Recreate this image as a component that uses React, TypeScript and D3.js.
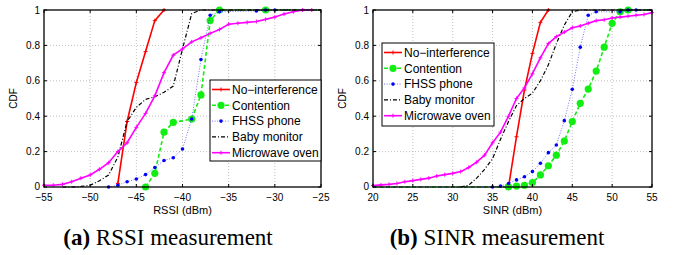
import * as d3 from "d3";
import React from "react";

// tick values
const rssiTicks = [-55, -50, -45, -40, -35, -30, -25];
const sinrTicks = [20, 25, 30, 35, 40, 45, 50, 55];
const cdfTicks = [0, 0.2, 0.4, 0.6, 0.8, 1];

const seriesNames = ["No\u2212interference", "Contention", "FHSS phone", "Baby monitor", "Microwave oven"];

// (a) RSSI
const rssiNoInterference: [number, number][] = [
  [-47, 0.02], [-46, 0.37], [-45, 0.59], [-44, 0.765], [-43, 0.94], [-42, 1.0],
];
const rssiContention: [number, number][] = [
  [-44, 0], [-43, 0.077], [-42, 0.31], [-41, 0.365], [-39, 0.384], [-38, 0.52],
  [-37, 0.94], [-36, 1.0], [-31, 1.0],
];
const rssiFhss: [number, number][] = [
  [-48, 0], [-47, 0.01], [-46, 0.03], [-45, 0.045], [-44, 0.07], [-43, 0.11], [-42, 0.15],
  [-41, 0.165], [-40, 0.215], [-39, 0.384], [-38, 0.72], [-37, 0.97], [-36, 0.99],
  [-32, 0.995], [-31, 1.0], [-30, 1.0],
];
const rssiBaby: [number, number][] = [
  [-53, 0], [-52, 0], [-51, 0.003], [-50, 0.01], [-49, 0.035], [-48, 0.068], [-47, 0.17],
  [-46, 0.37], [-45, 0.45], [-44, 0.495], [-43, 0.51], [-42, 0.535], [-41, 0.57],
  [-40, 0.78], [-39, 0.98], [-38, 1.0], [-25, 1.0],
];
const rssiMicrowave: [number, number][] = [
  [-55, 0.01], [-54, 0.01], [-53, 0.015], [-52, 0.03], [-51, 0.05], [-50, 0.068], [-49, 0.1],
  [-48, 0.137], [-47, 0.2], [-46, 0.25], [-45, 0.337], [-44, 0.416], [-43, 0.515],
  [-42, 0.646], [-41, 0.745], [-40, 0.78], [-39, 0.82], [-38, 0.843], [-37, 0.868],
  [-36, 0.89], [-35, 0.92], [-34, 0.925], [-33, 0.93], [-32, 0.935], [-31, 0.947],
  [-30, 0.96], [-29, 0.977], [-28, 0.99], [-27, 1.0], [-26, 1.0],
];

// (b) SINR
const sinrNoInterference: [number, number][] = [
  [37, 0], [38, 0.284], [39, 0.548], [40, 0.755], [41, 0.93], [42, 1.0],
];
const sinrContention: [number, number][] = [
  [37, 0], [38, 0.005], [39, 0.01], [40, 0.025], [41, 0.068], [42, 0.12], [43, 0.18],
  [44, 0.26], [45, 0.37], [46, 0.473], [47, 0.553], [48, 0.655], [49, 0.79], [50, 0.925],
  [51, 0.99], [52, 1.0],
];
const sinrFhss: [number, number][] = [
  [35, 0], [36, 0.005], [37, 0.02], [38, 0.04], [39, 0.058], [40, 0.087], [41, 0.134],
  [42, 0.194], [43, 0.237], [44, 0.375], [45, 0.552], [46, 0.79], [47, 0.97], [48, 0.99],
  [51, 0.99], [52, 1.0], [53, 1.0],
];
const sinrBaby: [number, number][] = [
  [31, 0], [32, 0.01], [33, 0.05], [34, 0.1], [35, 0.16], [36, 0.27], [37, 0.37],
  [38, 0.46], [39, 0.5], [40, 0.53], [41, 0.6], [42, 0.69], [43, 0.81], [44, 0.915],
  [45, 0.99], [46, 1.0], [55, 1.0],
];
const sinrMicrowave: [number, number][] = [
  [20, 0.008], [21, 0.012], [22, 0.015], [23, 0.02], [24, 0.03], [25, 0.036], [26, 0.043],
  [27, 0.05], [28, 0.062], [29, 0.07], [30, 0.077], [31, 0.087], [32, 0.11], [33, 0.14],
  [34, 0.18], [35, 0.25], [36, 0.31], [37, 0.4], [38, 0.5], [39, 0.56], [40, 0.64],
  [41, 0.73], [42, 0.81], [43, 0.85], [44, 0.875], [45, 0.9], [46, 0.91], [47, 0.925],
  [48, 0.94], [49, 0.945], [50, 0.955], [51, 0.96], [52, 0.965], [53, 0.97], [54, 0.975],
  [55, 0.985],
];

type Style = {
  color: string;
  dash: string;
  width: number;
  marker: "plus" | "dot" | "big" | "none";
  lineOpacity?: number;
};

const styles: Style[] = [
  { color: "#ff0000", dash: "none", width: 1.6, marker: "plus" },
  { color: "#11ee11", dash: "4,2.5", width: 1.6, marker: "big" },
  { color: "#0000ff", dash: "1,1.6", width: 1, marker: "dot", lineOpacity: 0.55 },
  { color: "#000000", dash: "4,2,1,2", width: 1.2, marker: "none" },
  { color: "#ff00ff", dash: "none", width: 1.6, marker: "plus" },
];

const sans = "'Liberation Sans', Arial, Helvetica, sans-serif";

type PanelProps = {
  x0: number; x1: number;
  domain: [number, number];
  ticks: number[];
  series: [number, number][][];
  leadFor: number[];   // series whose line runs along 0 from the left edge
  tailFor: number[];   // series whose line runs along 1 to the right edge
  legend: { x: number; y: number; w: number; h: number };
  xLabel: string;
  capLetter: string;
  capText: string;
  capX: number;
};

const top = 10, bottom = 187;

function Marker({ kind, x, y, color }: { kind: string; x: number; y: number; color: string }) {
  if (kind === "none") return null;
  if (kind === "big") return <circle cx={x} cy={y} r={3.6} fill={color} />;
  if (kind === "dot") return <circle cx={x} cy={y} r={1.8} fill={color} />;
  return (
    <path d={`M${x - 2},${y}H${x + 2}M${x},${y - 2}V${y + 2}`} stroke={color} strokeWidth={1} />
  );
}

function Panel(p: PanelProps) {
  const x = d3.scaleLinear().domain(p.domain).range([p.x0, p.x1]);
  const y = d3.scaleLinear().domain([0, 1]).range([bottom, top]);
  const line = d3.line<[number, number]>().x(d => x(d[0])).y(d => y(d[1]));
  const fmtY = (v: number) => (v === 0 || v === 1 ? String(v) : v.toFixed(1));
  const fmtX = (v: number) => (v < 0 ? "\u2212" + Math.abs(v) : String(v));
  const mid = (p.x0 + p.x1) / 2;
  const rowH = 15.8;
  return (
    <g>
      {/* grid */}
      {p.ticks.slice(1, -1).map(t => (
        <line key={"gx" + t} x1={x(t)} x2={x(t)} y1={top} y2={bottom} stroke="#b0b0b0" strokeWidth={0.8} strokeDasharray="1,2" />
      ))}
      {cdfTicks.slice(1, -1).map(t => (
        <line key={"gy" + t} x1={p.x0} x2={p.x1} y1={y(t)} y2={y(t)} stroke="#b0b0b0" strokeWidth={0.8} strokeDasharray="1,2" />
      ))}
      {/* series */}
      {p.series.map((pts, i) => {
        const s = styles[i];
        let path = pts;
        if (p.leadFor.includes(i)) path = [[p.domain[0], 0] as [number, number], ...path];
        if (p.tailFor.includes(i)) path = [...path, [p.domain[1], 1] as [number, number]];
        return (
          <g key={"s" + i}>
            <path d={line(path) || ""} fill="none" stroke={s.color} strokeWidth={s.width}
              strokeDasharray={s.dash} strokeOpacity={s.lineOpacity ?? 1} />
            {pts.map((d, j) => (
              <Marker key={j} kind={s.marker} x={x(d[0])} y={y(d[1])} color={s.color} />
            ))}
          </g>
        );
      })}
      {/* frame and ticks */}
      <rect x={p.x0} y={top} width={p.x1 - p.x0} height={bottom - top} fill="none" stroke="#000" strokeWidth={1.3} />
      {p.ticks.map(t => (
        <g key={"tx" + t}>
          <line x1={x(t)} x2={x(t)} y1={bottom} y2={bottom - 3} stroke="#000" />
          <line x1={x(t)} x2={x(t)} y1={top} y2={top + 3} stroke="#000" />
          <text x={x(t)} y={201} textAnchor="middle" fontSize={10} fontFamily={sans}>{fmtX(t)}</text>
        </g>
      ))}
      {cdfTicks.map(t => (
        <g key={"ty" + t}>
          <line x1={p.x0} x2={p.x0 + 3} y1={y(t)} y2={y(t)} stroke="#000" />
          <line x1={p.x1} x2={p.x1 - 3} y1={y(t)} y2={y(t)} stroke="#000" />
          <text x={p.x0 - 4} y={y(t) + (t === 0 ? 2.5 : 3.5)} textAnchor="end" fontSize={10} fontFamily={sans}>{fmtY(t)}</text>
        </g>
      ))}
      <text transform={`translate(${p.x0 - 27},${(top + bottom) / 2}) rotate(-90)`} textAnchor="middle" fontSize={10} fontFamily={sans}>CDF</text>
      <text x={mid} y={213.5} textAnchor="middle" fontSize={11} fontFamily={sans}>{p.xLabel}</text>
      {/* legend */}
      <g transform={`translate(${p.legend.x},${p.legend.y})`}>
        <rect width={p.legend.w} height={p.legend.h} fill="#fff" stroke="#000" strokeWidth={1} />
        {seriesNames.map((n, i) => {
          const s = styles[i];
          const cy = 9.5 + i * rowH;
          return (
            <g key={n}>
              <line x1={2} x2={20} y1={cy} y2={cy} stroke={s.color} strokeWidth={s.width}
                strokeDasharray={s.dash} strokeOpacity={s.lineOpacity ?? 1} />
              <Marker kind={s.marker} x={11} y={cy} color={s.color} />
              <text x={22} y={cy + 4.2} fontSize={12} fontFamily={sans}>{n}</text>
            </g>
          );
        })}
      </g>
      <text x={p.capX} y={245} textAnchor="middle" fontSize={23} fontFamily="'Liberation Serif', 'Times New Roman', serif">
        <tspan fontWeight="bold">{p.capLetter}</tspan> {p.capText}
      </text>
    </g>
  );
}

export default function App() {
  return (
    <svg width={673} height={255} style={{ position: "absolute", left: 0, top: 0, background: "#fff" }}>
      <rect width={673} height={255} fill="#fff" />
      <Panel
        x0={44} x1={321}
        domain={[-55, -25]}
        ticks={rssiTicks}
        series={[rssiNoInterference, rssiContention, rssiFhss, rssiBaby, rssiMicrowave]}
        leadFor={[]}
        tailFor={[1, 2]}
        legend={{ x: 210, y: 80, w: 111, h: 81 }}
        xLabel="RSSI (dBm)"
        capLetter="(a)"
        capText="RSSI measurement"
        capX={168}
      />
      <Panel
        x0={373} x1={652}
        domain={[20, 55]}
        ticks={sinrTicks}
        series={[sinrNoInterference, sinrContention, sinrFhss, sinrBaby, sinrMicrowave]}
        leadFor={[1, 2]}
        tailFor={[1, 2]}
        legend={{ x: 382, y: 43, w: 112, h: 83 }}
        xLabel="SINR (dBm)"
        capLetter="(b)"
        capText="SINR measurement"
        capX={497}
      />
    </svg>
  );
}
